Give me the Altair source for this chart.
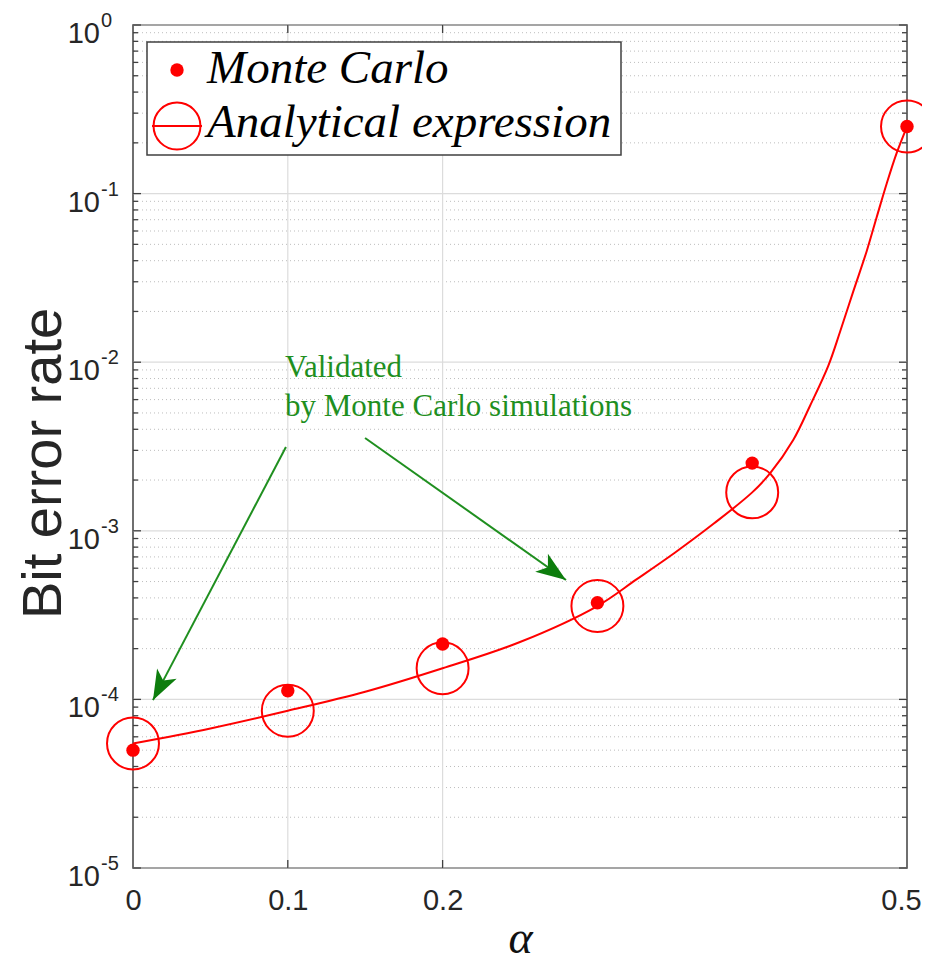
import altair as alt
import pandas as pd

# ---------------- data ----------------
alpha_pts = [0.0, 0.1, 0.2, 0.3, 0.4, 0.5]
ber_monte_carlo = [5.0e-5, 1.125e-4, 2.13e-4, 3.74e-4, 2.52e-3, 0.25]
ber_analytical = [5.48e-5, 8.56e-5, 1.53e-4, 3.58e-4, 1.69e-3, 0.25]

curve_alpha = [0.0, 0.05, 0.1, 0.15, 0.2, 0.25, 0.3, 0.325, 0.35, 0.375, 0.4,
               0.4115, 0.4266, 0.4373, 0.4492, 0.4567, 0.4653, 0.474, 0.4804,
               0.4869, 0.4933, 0.5]
curve_ber = [5.48e-5, 6.73e-5, 8.56e-5, 1.11e-4, 1.53e-4, 2.19e-4, 3.58e-4,
             5.13e-4, 7.41e-4, 1.10e-3, 1.69e-3, 2.19e-3, 3.47e-3, 5.5e-3,
             9.55e-3, 0.0151, 0.0263, 0.0457, 0.0724, 0.1148, 0.1738, 0.25]

x_ticks = [0, 0.1, 0.2, 0.5]
x_grid = [0.1, 0.2]
y_decades = [1e-5, 1e-4, 1e-3, 1e-2, 1e-1, 1.0]
y_exponents = ["-5", "-4", "-3", "-2", "-1", "0"]
y_minor = [k * 10.0 ** e for e in range(-5, 0) for k in range(2, 10)]

legend_labels = ["Monte Carlo", "Analytical expression"]
annot_lines = ["Validated", "by Monte Carlo simulations"]
annot_x = [0.0982, 0.0982]
annot_y = [9.25e-3, 5.43e-3]
# arrows: start -> tip
arrow_x = [0.0988, 0.1499]
arrow_y = [3.14e-3, 3.55e-3]
arrow_x2 = [0.0129, 0.2797]
arrow_y2 = [9.9e-5, 5.11e-4]

# ---------------- styling ----------------
W, H = 774, 843
RED = "#ff0000"
GREEN = "#1f8f1f"
GREEN_HEAD = "#0d7d0d"
FRAME = "#404040"
TXT = "#262626"

xs = alt.Scale(domain=[0, 0.5], nice=False, zero=False)
ys = alt.Scale(type="log", domain=[1e-5, 1.0], nice=False)

x_axis = alt.Axis(values=x_ticks, format="~g", grid=False, ticks=False,
                  domain=False, labelFlush=False, labelFontSize=29,
                  labelOffset={"condition": {"test": "datum.value >= 0.5", "value": -6},
                               "value": 0},
                  labelFont="Liberation Sans", labelColor=TXT, labelPadding=18,
                  titleFont="Liberation Serif", titleFontStyle="italic",
                  titleFontSize=46, titleFontWeight="normal", titleColor="#111111",
                  titleY=70, titleBaseline="middle")
y_axis = alt.Axis(values=y_decades, labels=False, ticks=False, domain=False,
                  grid=False, titleFont="Liberation Sans", titleFontSize=56,
                  titleFontWeight="normal", titleColor=TXT, titleX=-90,
                  titleY=438, titleAngle=270, titleAlign="center",
                  titleBaseline="middle")


def X(field="x"):
    return alt.X(f"{field}:Q", scale=xs, axis=x_axis, title="α")


def Y(field="y"):
    return alt.Y(f"{field}:Q", scale=ys, axis=y_axis, title="Bit error rate")


df_minor = pd.DataFrame({"y": y_minor})
df_dec = pd.DataFrame({"y": y_decades, "e": y_exponents})
df_xgrid = pd.DataFrame({"x": x_grid})
df_pts = pd.DataFrame({"x": alpha_pts, "mc": ber_monte_carlo, "an": ber_analytical})
df_curve = pd.DataFrame({"x": curve_alpha, "y": curve_ber})
df_annot = pd.DataFrame({"x": annot_x, "y": annot_y, "t": annot_lines})
df_arrow = pd.DataFrame({"x": arrow_x, "y": arrow_y, "x2": arrow_x2, "y2": arrow_y2})
df_one = pd.DataFrame({"a": [0]})

# grids
minor_grid = alt.Chart(df_minor).mark_rule(color="#bdbdbd", strokeWidth=1,
                                           strokeDash=[1, 3]).encode(y=Y())
major_grid = alt.Chart(df_dec).mark_rule(color="#dcdcdc", strokeWidth=1.2).encode(y=Y())
v_grid = alt.Chart(df_xgrid).mark_rule(color="#dcdcdc", strokeWidth=1.2).encode(x=X())

# inward ticks
tick_style = dict(color=FRAME, strokeWidth=1.3)
tl_major = alt.Chart(df_dec).mark_rule(**tick_style).encode(
    y=Y(), x=alt.value(0), x2=alt.value(8))
tr_major = alt.Chart(df_dec).mark_rule(**tick_style).encode(
    y=Y(), x=alt.value(W - 8), x2=alt.value(W))
tl_minor = alt.Chart(df_minor).mark_rule(**tick_style).encode(
    y=Y(), x=alt.value(0), x2=alt.value(5))
tr_minor = alt.Chart(df_minor).mark_rule(**tick_style).encode(
    y=Y(), x=alt.value(W - 5), x2=alt.value(W))
tb_x = alt.Chart(df_xgrid).mark_rule(**tick_style).encode(
    x=X(), y=alt.value(H - 8), y2=alt.value(H))
tt_x = alt.Chart(df_xgrid).mark_rule(**tick_style).encode(
    x=X(), y=alt.value(0), y2=alt.value(8))

# y tick labels: 10 with superscript exponent
lab_base = alt.Chart(df_dec).mark_text(align="right", baseline="middle",
                                       font="Liberation Sans", fontSize=29,
                                       color=TXT, dy=9).encode(
    y=Y(), x=alt.value(-33), text=alt.value("10"))
lab_exp = alt.Chart(df_dec).mark_text(align="left", baseline="middle",
                                      font="Liberation Sans", fontSize=20,
                                      color=TXT, dy=-4).encode(
    y=Y(), x=alt.value(-32), text="e:N")

# annotation
arrows = alt.Chart(df_arrow).mark_rule(color=GREEN, strokeWidth=2).encode(
    x=X(), y=Y(), x2="x2:Q", y2="y2:Q")
head_path = "M0,0L0.85,2.3L0,1.7L-0.85,2.3Z"
head1 = alt.Chart(df_arrow.iloc[[0]]).mark_point(
    shape=head_path, size=676, angle=207.7, filled=True, color=GREEN_HEAD,
    opacity=1, strokeWidth=0).encode(x=X("x2"), y=Y("y2"))
head2 = alt.Chart(df_arrow.iloc[[1]]).mark_point(
    shape=head_path, size=676, angle=125.2, filled=True, color=GREEN_HEAD,
    opacity=1, strokeWidth=0).encode(x=X("x2"), y=Y("y2"))
annot = alt.Chart(df_annot).mark_text(align="left", baseline="middle",
                                      font="Liberation Serif", fontSize=31,
                                      color=GREEN).encode(x=X(), y=Y(), text="t:N")

# data
curve = alt.Chart(df_curve).mark_line(color=RED, strokeWidth=2,
                                      interpolate="catmull-rom").encode(x=X(), y=Y())
circles = alt.Chart(df_pts).mark_point(shape="circle", size=2700, color=RED,
                                       filled=False, strokeWidth=2,
                                       opacity=1).encode(x=X(), y=Y("an"))
dots = alt.Chart(df_pts).mark_circle(size=180, color=RED, opacity=1).encode(
    x=X(), y=Y("mc"))

# legend (drawn box)
leg_box = alt.Chart(df_one).mark_rect(fill="white", stroke=FRAME,
                                      strokeWidth=1.5).encode(
    x=alt.value(14), x2=alt.value(488), y=alt.value(17), y2=alt.value(130))
leg_dot = alt.Chart(df_one).mark_circle(size=180, color=RED, opacity=1).encode(
    x=alt.value(44), y=alt.value(45))
leg_circ = alt.Chart(df_one).mark_point(shape="circle", size=2200, color=RED,
                                        filled=False, strokeWidth=2,
                                        opacity=1).encode(
    x=alt.value(44), y=alt.value(101))
leg_line = alt.Chart(df_one).mark_rule(color=RED, strokeWidth=2).encode(
    x=alt.value(19), x2=alt.value(69), y=alt.value(101))
leg_t1 = alt.Chart(df_one).mark_text(align="left", baseline="alphabetic",
                                     font="Liberation Serif", fontStyle="italic",
                                     fontSize=47, color="black").encode(
    x=alt.value(74), y=alt.value(58), text=alt.value(legend_labels[0]))
leg_t2 = alt.Chart(df_one).mark_text(align="left", baseline="alphabetic",
                                     font="Liberation Serif", fontStyle="italic",
                                     fontSize=47, color="black").encode(
    x=alt.value(74), y=alt.value(112), text=alt.value(legend_labels[1]))

chart = alt.layer(
    minor_grid, major_grid, v_grid,
    tl_major, tr_major, tl_minor, tr_minor, tb_x, tt_x,
    lab_base, lab_exp,
    arrows, head1, head2, annot,
    curve, circles, dots,
    leg_box, leg_dot, leg_circ, leg_line, leg_t1, leg_t2,
).properties(
    width=W, height=H,
    autosize=alt.AutoSizeParams(type="none"),
    padding={"left": 125, "top": 17, "right": 15, "bottom": 95},
    background="white",
).configure_view(stroke=FRAME, strokeWidth=1.5)

chart.save("out.html", embed_options={"renderer": "svg", "actions": False})
